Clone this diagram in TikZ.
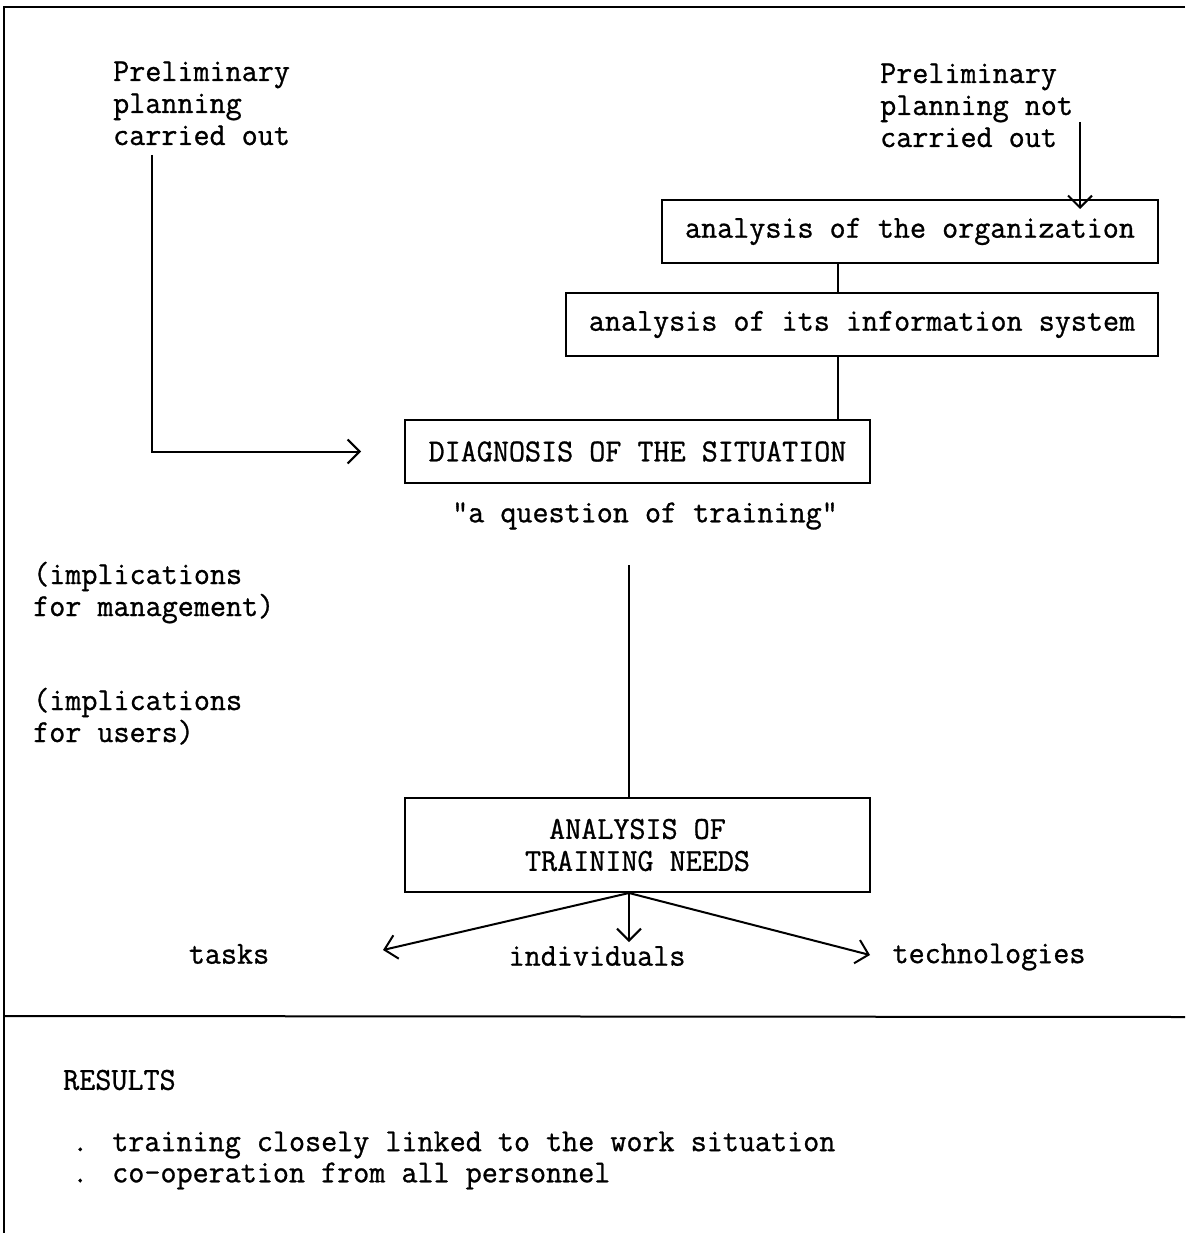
\documentclass[tikz,border=0pt]{standalone}
\usepackage{fontspec}
\newfontfamily\twfont[FakeStretch=0.975,FakeBold=0.9]{Latin Modern Mono}
\usetikzlibrary{arrows.meta}
\begin{document}
\begin{tikzpicture}[x=1pt,y=-1pt,
  tw/.style={font=\twfont\fontsize{32}{32}\selectfont},
  txt/.style={tw, inner sep=0pt, align=left},
  boxed/.style={tw, draw, line width=2pt, inner sep=0pt, align=center},
  ln/.style={line width=2pt},
  arr/.style={ln, -{Straight Barb[length=12pt,width=24pt,line width=2pt]}}
]
\useasboundingbox (0,0) rectangle (1185,1233);

% frame: top, left side and divider above the results
\draw[ln] (1185,7) -- (4,7) -- (4,1233);
\draw[ln] (4,1016) -- (1185,1017);

% starting conditions (anchored on the baseline of their last line)
\node[txt, anchor=base west] (preyes) at (113,145) {Preliminary\\planning\\carried out};
\node[txt, anchor=base west] (preno) at (880,147) {Preliminary\\planning not\\carried out};

% boxes
\node[boxed, minimum width=496pt, minimum height=63pt] (org) at (910,231.5) {analysis of the organization};
\node[boxed, minimum width=592pt, minimum height=63pt] (info) at (862,324.5) {analysis of its information system};
\node[boxed, minimum width=465pt, minimum height=63pt] (diag) at (637.5,451.5) {DIAGNOSIS OF THE SITUATION};
\node[txt, anchor=center] (quest) at (645,516) {"a question of training"};
\node[boxed, minimum width=465pt, minimum height=94pt] (needs) at (637.5,845) {ANALYSIS OF\\TRAINING NEEDS};

% side notes
\node[txt, anchor=base west] (mgmt) at (33,616) {(implications\\for management)};
\node[txt, anchor=base west] (users) at (33,742) {(implications\\for users)};

% outcomes
\node[txt, anchor=center] (tasks) at (229,954) {tasks};
\node[txt, anchor=center] (indiv) at (597,956) {individuals};
\node[txt, anchor=center] (tech) at (989,957) {technologies};

% results
\node[txt, anchor=west] (res) at (63,1080) {RESULTS};
\node[txt, anchor=west] (r1) at (72,1145) {.\hspace{24pt}training closely linked to the work situation};
\node[txt, anchor=west] (r2) at (72,1176) {.\hspace{24pt}co-operation from all personnel};

% connectors
\coordinate (sy) at (152,155);
\coordinate (sn) at (1080,122);
\coordinate (cx) at (838,0);
\coordinate (qd) at (629,565);
\coordinate (fan) at (629,893);

\draw[arr] (sy) |- ([xshift=-43pt]diag.west);
\draw[arr] (sn) -- ([yshift=-10pt]org.north -| sn);
\draw[ln] (org.south -| cx) -- (info.north -| cx);
\draw[ln] (info.south -| cx) -- (diag.north -| cx);
\draw[ln] (qd) -- (needs.north -| qd);
\draw[arr] (fan) -- (383,950);
\draw[arr] (fan) -- (629,942);
\draw[arr] (fan) -- (870,955);
\end{tikzpicture}
\end{document}
